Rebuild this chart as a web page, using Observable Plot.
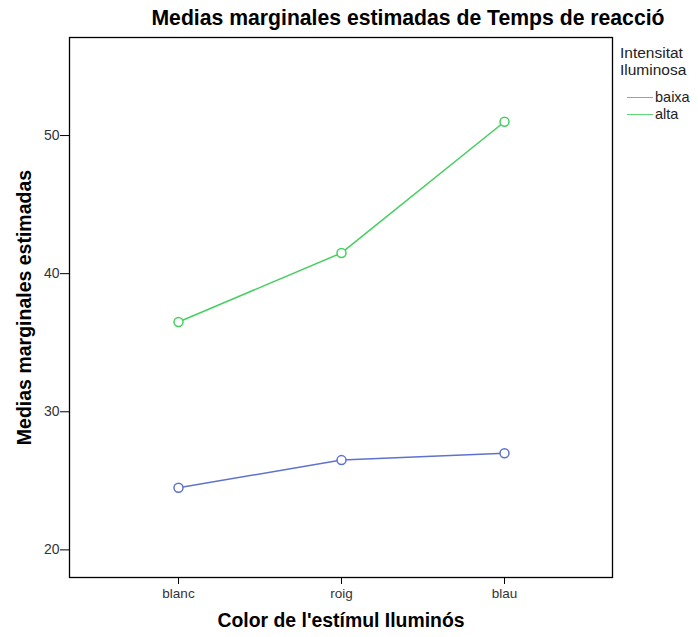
<!DOCTYPE html>
<html>
<head>
<meta charset="utf-8">
<script src="https://cdn.jsdelivr.net/npm/d3@7"></script>
<script src="https://cdn.jsdelivr.net/npm/@observablehq/plot@0.6"></script>
<style>
  html, body { margin: 0; padding: 0; background: #fff; }
  #wrap { position: relative; width: 698px; height: 637px; font-family: "Liberation Sans", Arial, sans-serif; }
  #title { position: absolute; top: 6px; left: 0; width: 698px; padding-left: 118px; box-sizing: border-box; text-align: center; font-size: 21.2px; font-weight: bold; color: #000; white-space: nowrap; }
  #legend { position: absolute; left: 620px; top: 44px; font-size: 15.5px; color: #222; line-height: 17px; }
  #legend .item { display: flex; align-items: center; font-size: 14.5px; height: 17px; line-height: 17px; }
  #legend .sw { display: inline-block; width: 26px; height: 1.5px; margin-right: 2px; margin-left: 7px; }
  #chart { position: absolute; left: 0; top: 0; }
</style>
</head>
<body>
<div id="wrap">
  <div id="chart"></div>
  <div id="title">Medias marginales estimadas de Temps de reacció</div>
  <div id="legend"></div>
</div>
<script>
const categories = ["blanc", "roig", "blau"];
const seriesNames = ["baixa", "alta"];
const baixaValues = [24.5, 26.5, 27.0];
const altaValues = [36.5, 41.5, 51.0];
const yTicks = [20, 30, 40, 50];
const colors = ["#5f72cc", "#45cf5f"];
const legendColors = ["#8c9ddb", "#5fd877"];

const data = [];
categories.forEach((c, i) => {
  data.push({color: c, serie: "baixa", value: baixaValues[i]});
  data.push({color: c, serie: "alta", value: altaValues[i]});
});

const chart = Plot.plot({
  width: 698,
  height: 637,
  marginLeft: 69,
  marginRight: 86,
  marginTop: 37,
  marginBottom: 60,
  style: {fontFamily: "Liberation Sans, Arial, sans-serif", fontSize: "13.5px", color: "#000", background: "#fff"},
  x: {type: "point", domain: categories, padding: 0.665, label: null},
  y: {domain: [18, 57.1], label: null},
  color: {domain: seriesNames, range: colors},
  marks: [
    Plot.frame({stroke: "#000", strokeWidth: 1.3}),
    Plot.axisX({tickSize: 7, tickPadding: 4, fontSize: 13.5, color: "#333", stroke: "#000", label: null}),
    Plot.axisY({ticks: yTicks, tickSize: 9, tickPadding: 1, fontSize: 14, color: "#333", stroke: "#000", label: null}),
    Plot.text(["Color de l'estímul Iluminós"], {frameAnchor: "bottom", dy: 49, fontSize: 19.4, fontWeight: "bold", fill: "#000"}),
    Plot.text(["Medias marginales estimadas"], {frameAnchor: "left", textAnchor: "middle", dx: -45, rotate: -90, fontSize: 19.5, fontWeight: "bold", fill: "#000"}),
    Plot.line(data, {x: "color", y: "value", z: "serie", stroke: "serie", strokeWidth: 1.5}),
    Plot.dot(data, {x: "color", y: "value", stroke: "serie", fill: "#fff", r: 4.5, strokeWidth: 1.5})
  ]
});
document.getElementById("chart").appendChild(chart);

const legend = document.getElementById("legend");
const t = document.createElement("div");
t.innerHTML = "Intensitat<br>Iluminosa";
t.style.marginBottom = "11px";
legend.appendChild(t);
seriesNames.forEach((s, i) => {
  const it = document.createElement("div");
  it.className = "item";
  const sw = document.createElement("span");
  sw.className = "sw";
  sw.style.background = legendColors[i];
  it.appendChild(sw);
  it.appendChild(document.createTextNode(s));
  legend.appendChild(it);
});
</script>
</body>
</html>
